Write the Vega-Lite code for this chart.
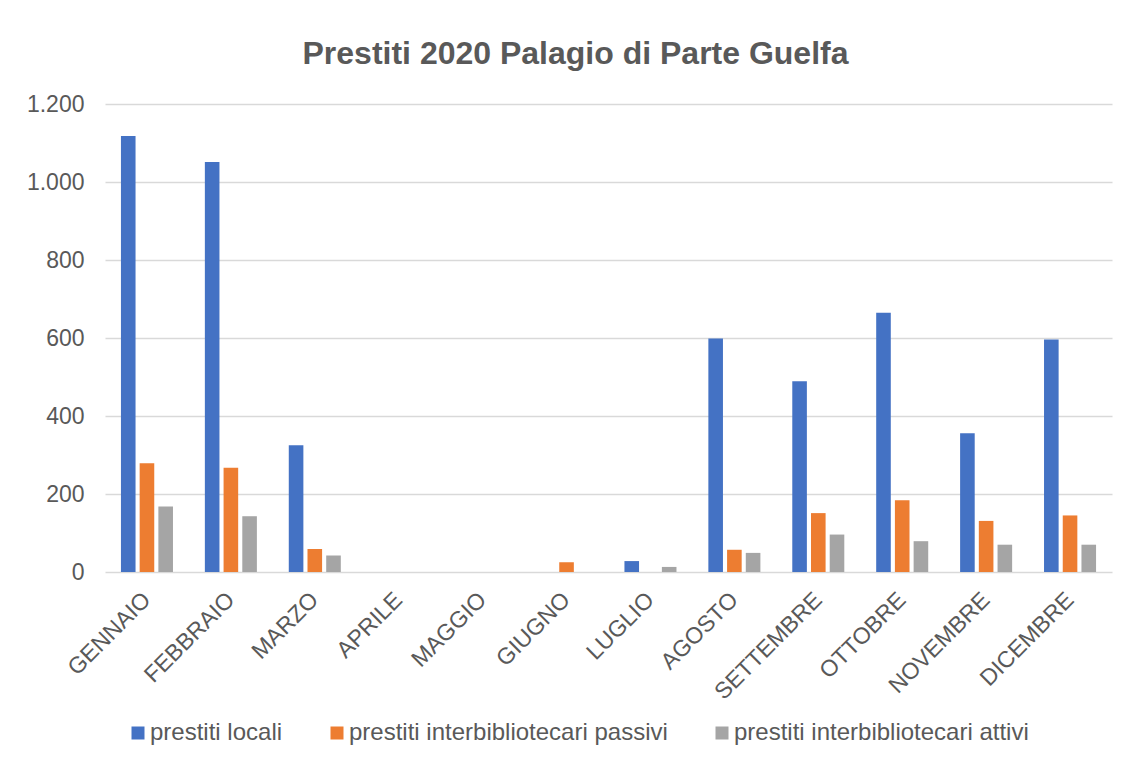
{
  "$schema": "https://vega.github.io/schema/vega-lite/v6.json",
  "autosize": {"type": "none"},
  "width": 1007,
  "height": 468,
  "padding": {"left": 105, "top": 104, "right": 17, "bottom": 189},
  "background": "white",
  "title": {
    "text": "Prestiti 2020 Palagio di Parte Guelfa",
    "font": "Liberation Sans",
    "fontSize": 32,
    "fontWeight": "bold",
    "color": "#595959",
    "anchor": "middle",
    "frame": "group",
    "dx": -33,
    "offset": 22
  },
  "data": {
    "values": [
      {"mese": "GENNAIO", "serie": "prestiti locali", "valore": 1118},
      {"mese": "GENNAIO", "serie": "prestiti interbibliotecari passivi", "valore": 279},
      {"mese": "GENNAIO", "serie": "prestiti interbibliotecari attivi", "valore": 168},
      {"mese": "FEBBRAIO", "serie": "prestiti locali", "valore": 1051},
      {"mese": "FEBBRAIO", "serie": "prestiti interbibliotecari passivi", "valore": 267},
      {"mese": "FEBBRAIO", "serie": "prestiti interbibliotecari attivi", "valore": 143},
      {"mese": "MARZO", "serie": "prestiti locali", "valore": 325},
      {"mese": "MARZO", "serie": "prestiti interbibliotecari passivi", "valore": 59},
      {"mese": "MARZO", "serie": "prestiti interbibliotecari attivi", "valore": 42},
      {"mese": "APRILE", "serie": "prestiti locali", "valore": 0},
      {"mese": "APRILE", "serie": "prestiti interbibliotecari passivi", "valore": 0},
      {"mese": "APRILE", "serie": "prestiti interbibliotecari attivi", "valore": 0},
      {"mese": "MAGGIO", "serie": "prestiti locali", "valore": 0},
      {"mese": "MAGGIO", "serie": "prestiti interbibliotecari passivi", "valore": 0},
      {"mese": "MAGGIO", "serie": "prestiti interbibliotecari attivi", "valore": 0},
      {"mese": "GIUGNO", "serie": "prestiti locali", "valore": 0},
      {"mese": "GIUGNO", "serie": "prestiti interbibliotecari passivi", "valore": 25},
      {"mese": "GIUGNO", "serie": "prestiti interbibliotecari attivi", "valore": 0},
      {"mese": "LUGLIO", "serie": "prestiti locali", "valore": 28},
      {"mese": "LUGLIO", "serie": "prestiti interbibliotecari passivi", "valore": 0},
      {"mese": "LUGLIO", "serie": "prestiti interbibliotecari attivi", "valore": 13},
      {"mese": "AGOSTO", "serie": "prestiti locali", "valore": 599},
      {"mese": "AGOSTO", "serie": "prestiti interbibliotecari passivi", "valore": 57},
      {"mese": "AGOSTO", "serie": "prestiti interbibliotecari attivi", "valore": 49},
      {"mese": "SETTEMBRE", "serie": "prestiti locali", "valore": 489},
      {"mese": "SETTEMBRE", "serie": "prestiti interbibliotecari passivi", "valore": 151},
      {"mese": "SETTEMBRE", "serie": "prestiti interbibliotecari attivi", "valore": 96},
      {"mese": "OTTOBRE", "serie": "prestiti locali", "valore": 665},
      {"mese": "OTTOBRE", "serie": "prestiti interbibliotecari passivi", "valore": 184},
      {"mese": "OTTOBRE", "serie": "prestiti interbibliotecari attivi", "valore": 79},
      {"mese": "NOVEMBRE", "serie": "prestiti locali", "valore": 356},
      {"mese": "NOVEMBRE", "serie": "prestiti interbibliotecari passivi", "valore": 131},
      {"mese": "NOVEMBRE", "serie": "prestiti interbibliotecari attivi", "valore": 70},
      {"mese": "DICEMBRE", "serie": "prestiti locali", "valore": 596},
      {"mese": "DICEMBRE", "serie": "prestiti interbibliotecari passivi", "valore": 145},
      {"mese": "DICEMBRE", "serie": "prestiti interbibliotecari attivi", "valore": 70}
    ]
  },
  "mark": {"type": "bar"},
  "encoding": {
    "x": {
      "field": "mese",
      "type": "nominal",
      "sort": null,
      "scale": {"paddingInner": 0.38, "paddingOuter": 0.19},
      "axis": {
        "title": null,
        "domain": false,
        "ticks": false,
        "labelAngle": -45,
        "labelAlign": "right",
        "labelBaseline": "middle",
        "labelPadding": 24,
        "labelFont": "Liberation Sans",
        "labelFontSize": 23,
        "labelColor": "#595959",
        "labelOverlap": false
      }
    },
    "xOffset": {
      "field": "serie",
      "type": "nominal",
      "sort": ["prestiti locali", "prestiti interbibliotecari passivi", "prestiti interbibliotecari attivi"],
      "scale": {"paddingInner": 0.22, "paddingOuter": 0}
    },
    "y": {
      "field": "valore",
      "type": "quantitative",
      "scale": {"domain": [0, 1200], "nice": false},
      "axis": {
        "title": null,
        "values": [0, 200, 400, 600, 800, 1000, 1200],
        "domain": false,
        "ticks": false,
        "labelExpr": "replace(format(datum.value, ','), ',', '.')",
        "labelPadding": 21,
        "labelFont": "Liberation Sans",
        "labelFontSize": 23,
        "labelColor": "#595959",
        "gridColor": "#d9d9d9",
        "gridWidth": 1.5
      }
    },
    "color": {
      "field": "serie",
      "type": "nominal",
      "sort": ["prestiti locali", "prestiti interbibliotecari passivi", "prestiti interbibliotecari attivi"],
      "scale": {
        "domain": ["prestiti locali", "prestiti interbibliotecari passivi", "prestiti interbibliotecari attivi"],
        "range": ["#4472C4", "#ED7D31", "#A5A5A5"]
      },
      "legend": {
        "title": null,
        "orient": "none",
        "direction": "horizontal",
        "legendX": 21,
        "legendY": 617,
        "symbolType": "square",
        "symbolSize": 169,
        "symbolStrokeWidth": 0,
        "labelFont": "Liberation Sans",
        "labelFontSize": 24,
        "labelColor": "#595959",
        "labelOffset": 0,
        "columnPadding": 42,
        "labelLimit": 500
      }
    }
  },
  "config": {
    "view": {"stroke": null}
  }
}
